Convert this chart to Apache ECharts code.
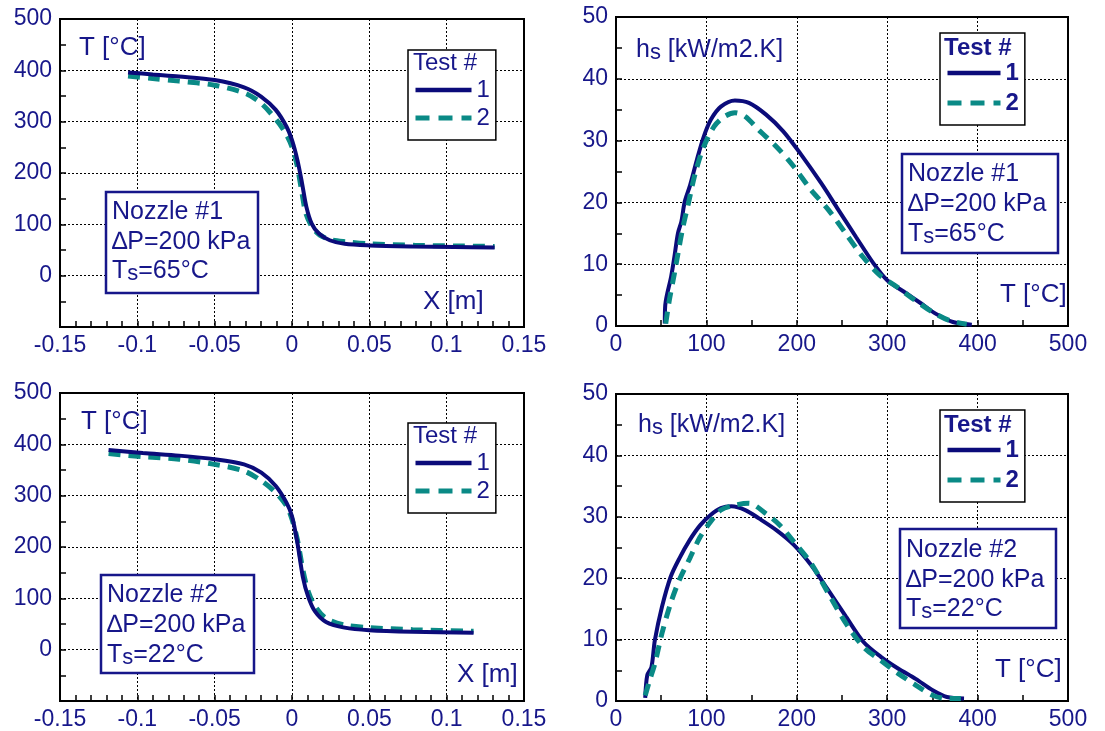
<!DOCTYPE html>
<html><head><meta charset="utf-8">
<script src="https://cdn.jsdelivr.net/npm/echarts@6/dist/echarts.min.js"></script>
<style>html,body{margin:0;padding:0;background:#fff}#c{width:1105px;height:731px}</style>
</head><body><div id="c"></div><script>
// ---------- DATA ----------
// Panel A (top-left): Nozzle #1, T vs X
const a_x1 = [-0.106, -0.09, -0.073, -0.05, -0.031, -0.02, -0.0105, -0.0035, 0, 0.0035, 0.0065, 0.0093, 0.0128, 0.0174, 0.0244, 0.034, 0.05, 0.078, 0.105, 0.131];
const a_T1 = [396, 392, 388, 381, 367, 349, 323, 290, 264, 225, 180, 134, 101, 82, 69, 62, 59, 57, 56, 55];
const a_x2 = [-0.106, -0.09, -0.073, -0.05, -0.03, -0.02, -0.01, -0.004, 0, 0.0035, 0.0065, 0.009, 0.013, 0.018, 0.025, 0.035, 0.05, 0.08, 0.105, 0.131];
const a_T2 = [389, 384, 379, 371, 355, 336, 303, 277, 251, 212, 160, 121, 95, 79, 70, 66, 62, 59, 58, 57];
// Panel B (top-right): Nozzle #1, hs vs T
const b_T1 = [54, 54.5, 61, 64.6, 68.5, 72.3, 76, 82, 89.5, 97, 105, 116, 131.6, 147, 166, 185, 204, 227, 246, 265.5, 285, 300, 319, 338, 353.5, 372.6, 393.6];
const b_h1 = [0.4, 3.4, 8, 11.2, 15, 16.9, 20.1, 22.8, 26.9, 30.6, 33.4, 35.5, 36.5, 36.1, 34.2, 31.5, 27.9, 23.1, 18.8, 14.4, 10.1, 7.4, 5.5, 3.6, 2.0, 0.65, 0.2];
const b_T2 = [55, 59, 64.6, 68.5, 74, 80, 87.6, 97, 108.6, 120, 131.6, 143, 158, 177.5, 196.6, 215.8, 235, 254, 273, 292, 311, 330.5, 349.7, 368.8, 388];
const b_h2 = [0.4, 4.2, 8.5, 11.7, 16, 19.8, 24.7, 29, 32.3, 33.9, 34.5, 33.9, 31.7, 29, 25.8, 22, 18.8, 15, 11.2, 8.2, 6.3, 4.2, 2.3, 0.9, 0.27];
// Panel C (bottom-left): Nozzle #2, T vs X
const c_x1 = [-0.1186, -0.0965, -0.073, -0.05, -0.031, -0.0198, -0.0105, -0.0035, 0, 0.0035, 0.007, 0.0105, 0.015, 0.022, 0.034, 0.05, 0.078, 0.1174];
const c_T1 = [389, 383, 378, 371, 361, 345, 319, 286, 260, 208, 142, 103, 74, 54, 43, 38, 35, 33];
const c_x2 = [-0.1186, -0.0965, -0.073, -0.05, -0.031, -0.0198, -0.0105, -0.0035, 0, 0.0035, 0.007, 0.0105, 0.015, 0.022, 0.034, 0.05, 0.078, 0.1174];
const c_T2 = [382, 376, 371, 361, 348, 329, 306, 280, 254, 214, 156, 113, 84, 61, 48, 43, 39, 36];
// Panel D (bottom-right): Nozzle #2, hs vs T
const d_T1 = [32.3, 34.6, 39.2, 43, 50.8, 60.4, 70, 81.5, 93, 104.6, 116, 127.7, 143, 158.5, 177.7, 197, 216, 235, 254.6, 273.8, 293, 312, 331.5, 350.8, 366, 385];
const d_h1 = [0.5, 4.2, 5.5, 9.9, 15.3, 20.2, 23.2, 26.2, 28.6, 30.3, 31.4, 31.7, 31.1, 29.7, 27.8, 25.4, 22.1, 18, 13.7, 9.6, 7.2, 5.3, 3.6, 1.7, 0.65, 0.4];
const d_T2 = [32.3, 37.3, 43, 50.8, 60.4, 70, 81.5, 93, 104.6, 116, 131.5, 147, 166, 181.5, 197, 216, 235, 254.6, 273.8, 293, 312, 331.5, 350.8, 366, 381.5];
const d_h2 = [0.9, 3.4, 6.1, 11, 15.9, 19.7, 23.2, 26.7, 29.2, 31.1, 31.9, 32.2, 30.5, 28.6, 25.9, 22.4, 17.5, 12.6, 8.8, 6.6, 4.5, 2.6, 0.9, 0.4, 0.4];

const testNames = ['1', '2'];
const nozzleLabels = ['Nozzle #1', 'Nozzle #1', 'Nozzle #2', 'Nozzle #2'];
const dpLabel = '\u2206P=200 kPa';
const tsValues = ['65°C', '65°C', '22°C', '22°C'];

// ---------- STYLE ----------
const FONT = "'Liberation Sans', Arial, sans-serif";
const NAVY = '#17178a';
const C1 = '#0b0b7a';
const C2 = '#0a8a86';
const zip = (xs, ys) => xs.map((x, i) => [x, ys[i]]);

const grids = [
  {left: 60, top: 19, width: 464, height: 308},
  {left: 616, top: 17, width: 452, height: 309},
  {left: 60, top: 393, width: 464, height: 308},
  {left: 616, top: 394, width: 452, height: 307}
];

function axisBase(idx, min, max, interval, minorSplit, fmt, isX) {
  return {
    type: 'value', gridIndex: idx, min, max, interval,
    axisLine: {show: true, onZero: false, lineStyle: {color: '#000', width: 2}},
    axisTick: {show: true, inside: true, length: 6, lineStyle: {color: '#000', width: 1.5}},
    minorTick: {show: true, splitNumber: minorSplit, length: 6, lineStyle: {color: '#000', width: 1.5}},
    splitLine: {show: true, lineStyle: {color: '#000', width: 1, type: [2, 2]}},
    axisLabel: {color: NAVY, fontSize: 23, fontFamily: FONT, margin: isX ? 7 : 8, formatter: fmt}
  };
}
const fmtX = v => String(+v.toFixed(2));
const fmtT = v => (v < 0 ? '' : String(Math.round(v)));
const fmtInt = v => String(Math.round(v));

const xAxes = [
  axisBase(0, -0.15, 0.15, 0.05, 5, fmtX, true),
  axisBase(1, 0, 500, 100, 2, fmtInt, true),
  axisBase(2, -0.15, 0.15, 0.05, 5, fmtX, true),
  axisBase(3, 0, 500, 100, 2, fmtInt, true)
];
const yAxes = [
  axisBase(0, -100, 500, 100, 2, fmtT, false),
  axisBase(1, 0, 50, 10, 2, fmtInt, false),
  axisBase(2, -100, 500, 100, 2, fmtT, false),
  axisBase(3, 0, 50, 10, 2, fmtInt, false)
];

function mkSeries(idx, name, data, z) {
  const isOne = name === '1';
  return {
    type: 'line', name, xAxisIndex: idx, yAxisIndex: idx, data,
    symbol: 'none', showSymbol: false, smooth: 0.3, z,
    lineStyle: isOne ? {color: C1, width: 4} : {color: C2, width: 5, type: [12, 8]},
    itemStyle: {color: isOne ? C1 : C2},
    emphasis: {disabled: true}
  };
}
const series = [
  mkSeries(0, testNames[1], zip(a_x2, a_T2), 2),
  mkSeries(0, testNames[0], zip(a_x1, a_T1), 3),
  mkSeries(1, testNames[0], zip(b_T1, b_h1), 2),
  mkSeries(1, testNames[1], zip(b_T2, b_h2), 3),
  mkSeries(2, testNames[1], zip(c_x2, c_T2), 2),
  mkSeries(2, testNames[0], zip(c_x1, c_T1), 3),
  mkSeries(3, testNames[0], zip(d_T1, d_h1), 2),
  mkSeries(3, testNames[1], zip(d_T2, d_h2), 3)
];

function legendDef(left, top, bold, lw) {
  return {
    show: true, orient: 'vertical', left, top, selectedMode: false,
    data: [
      {name: testNames[0], lineStyle: {width: 4.5}, itemStyle: {opacity: 0}},
      {name: testNames[1], lineStyle: {width: 5, type: [14, 9]}, itemStyle: {opacity: 0}}
    ],
    itemWidth: lw, itemHeight: 14, itemGap: bold ? 6 : 4,
    padding: [28, 6, 10, 5],
    backgroundColor: '#fff', borderColor: '#000', borderWidth: 1.5, z: 5,
    textStyle: {color: NAVY, fontSize: 24, fontFamily: FONT, fontWeight: bold ? 'bold' : 'normal'}
  };
}
const legends = [
  legendDef(408, 50, false, 56),
  legendDef(940, 33, true, 53),
  legendDef(408, 423, false, 56),
  legendDef(940, 410, true, 53)
];

const sub = {s: {fontSize: 22, lineHeight: 22, verticalAlign: 'bottom', fill: NAVY, fontFamily: FONT}};
function txt(x, y, text, extra) {
  return {type: 'text', z: 100, style: Object.assign({x, y, text, fill: NAVY, fontSize: 26, fontFamily: FONT,
    verticalAlign: 'middle', lineHeight: 28, rich: sub}, extra || {})};
}
function nozzleBox(x, y, w, h, tx, ys, i) {
  return [
    {type: 'rect', z: 90, shape: {x, y, width: w, height: h}, style: {fill: '#fff', stroke: NAVY, lineWidth: 2.5}},
    txt(tx, ys[0], nozzleLabels[i], {fontSize: 25}),
    txt(tx, ys[1], dpLabel, {fontSize: 25}),
    txt(tx, ys[2], 'T{s|s}=' + tsValues[i], {fontSize: 25})
  ];
}
const graphic = [].concat(
  txt(79, 48, 'T [°C]'), txt(423, 302, 'X [m]'),
  txt(81, 422, 'T [°C]'), txt(457, 675, 'X [m]'),
  txt(636, 50, 'h{s|s} [kW/m2.K]', {fontSize: 25}), txt(1000, 295, 'T [°C]'),
  txt(638, 425, 'h{s|s} [kW/m2.K]', {fontSize: 25}), txt(995, 670, 'T [°C]'),
  txt(413, 63, 'Test #', {fontSize: 24}),
  txt(413, 436, 'Test #', {fontSize: 24}),
  txt(944, 48, 'Test #', {fontSize: 24, fontWeight: 'bold'}),
  txt(944, 425, 'Test #', {fontSize: 24, fontWeight: 'bold'}),
  nozzleBox(106, 192, 152, 101, 112, [212, 242, 271], 0),
  nozzleBox(902, 154, 156, 99, 908, [174, 204, 234], 1),
  nozzleBox(101, 575, 153, 98, 107, [595, 625, 655], 2),
  nozzleBox(900, 529, 156, 99, 906, [550, 580, 609], 3)
);

const chart = echarts.init(document.getElementById('c'), null, {renderer: 'canvas'});
chart.setOption({
  animation: false,
  backgroundColor: '#fff',
  grid: grids.map(g => Object.assign({show: true, borderColor: '#000', borderWidth: 2, backgroundColor: 'transparent'}, g)),
  xAxis: xAxes, yAxis: yAxes, legend: legends, series, graphic
});
</script></body></html>
